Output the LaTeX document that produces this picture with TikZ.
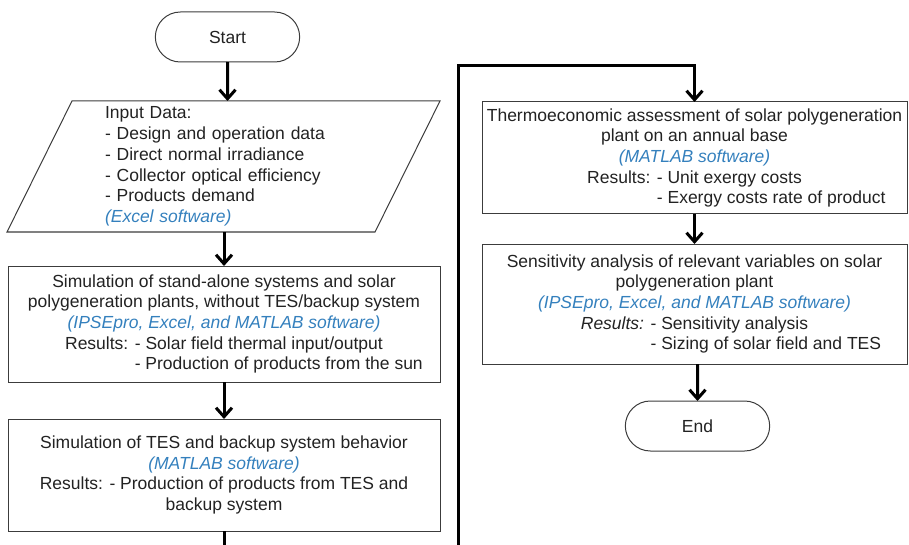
\documentclass[tikz,border=0pt]{standalone}
\usepackage{fontspec}
\setmainfont{Liberation Sans}
\usepackage{tikz}
\usetikzlibrary{positioning, arrows.meta, shapes.misc}
\definecolor{softblue}{RGB}{52,128,189}
\definecolor{framegray}{RGB}{60,60,60}
\definecolor{inkgray}{RGB}{34,34,34}
\newcommand{\tool}[1]{{\color{softblue}\itshape #1}}
\newcommand{\respair}[3]{#1 #2\\\hphantom{#1 }\rlap{#3}\hphantom{#2}}
\tikzset{
    flow box/.style={rectangle, draw=framegray, line width=1pt, text=inkgray, align=center, inner sep=2pt, outer sep=0pt, font=\fontsize{17.5}{20.7}\selectfont},
    data box/.style={rectangle, draw=none, text=inkgray, align=left, inner sep=0pt, outer sep=0pt, font=\fontsize{17.5}{20.7}\selectfont},
    term box/.style={rounded rectangle, draw=framegray, line width=1pt, text=inkgray, minimum width=151pt, minimum height=50pt, outer sep=0pt, font=\fontsize{17.5}{20.7}\selectfont},
    flow arrow/.style={-{Straight Barb[length=9pt, width=16pt]}, line width=3pt, black},
    flow line/.style={line width=3pt, black},
}
\begin{document}
\begin{tikzpicture}[x=1pt, y=-1pt, node distance=34pt]
\useasboundingbox (0,0) rectangle (909,545);
% left column
\node[term box] (start) at (227.5,37) {Start};
\node[data box, minimum width=368pt, minimum height=131pt, text width=237pt, below=39pt of start, xshift=-4pt] (input) {Input Data:\\- Design and operation data\\- Direct normal irradiance\\- Collector optical efficiency\\- Products demand\\\tool{(Excel software)}};
\draw[framegray, line width=1pt] ([xshift=32.5pt]input.north west) -- ([xshift=32.5pt]input.north east) -- ([xshift=-32.5pt]input.south east) -- ([xshift=-32.5pt]input.south west) -- cycle;
\node[flow box, minimum width=432pt, minimum height=116pt, below=34pt of input, xshift=0.5pt] (simsun) {Simulation of stand-alone systems and solar\\polygeneration plants, without TES/backup system\\\tool{(IPSEpro, Excel, and MATLAB software)}\\\respair{Results:}{- Solar field thermal input/output}{- Production of products from the sun}};
\node[flow box, minimum width=432pt, minimum height=112pt, below=37pt of simsun] (simtes) {Simulation of TES and backup system behavior\\\tool{(MATLAB software)}\\Results: - Production of products from TES and\\backup system};
\coordinate (leftout) at (224,545);
% right column
\node[flow box, minimum width=425pt, minimum height=112pt] (thermo) at (694.5,158) {Thermoeconomic assessment of solar polygeneration\\plant on an annual base\\\tool{(MATLAB software)}\\\respair{Results:}{- Unit exergy costs}{- Exergy costs rate of product}};
\node[flow box, minimum width=425pt, minimum height=120pt, below=30pt of thermo] (sens) {Sensitivity analysis of relevant variables on solar\\polygeneration plant\\\tool{(IPSEpro, Excel, and MATLAB software)}\\\respair{\textit{Results:}}{- Sensitivity analysis}{- Sizing of solar field and TES}};
\node[term box, below=37pt of sens, xshift=3pt] (end) {End};
\coordinate (rightin) at (458,545);
% connectors
\draw[flow arrow] (start) -- (start |- input.north);
\draw[flow arrow] (simsun.north |- input.south) -- (simsun);
\draw[flow arrow] (simsun) -- (simtes);
\draw[flow line] (simtes) -- (leftout);
\draw[flow arrow] (rightin) |- ([yshift=36pt]thermo.north) -- (thermo);
\draw[flow arrow] (thermo) -- (sens);
\draw[flow arrow] (sens.south -| end) -- (end);
\end{tikzpicture}
\end{document}
